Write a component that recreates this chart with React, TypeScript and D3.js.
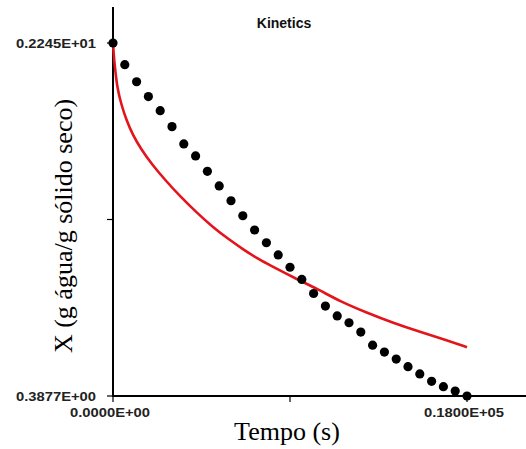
import React from "react";
import * as d3 from "d3";

const W = 526;
const H = 449;

// Experimental points (time in s, X in g água/g sólido seco)
const expTime = [
  0, 600, 1200, 1800, 2400, 3000, 3600, 4200, 4800, 5400, 6000, 6600, 7200, 7800,
  8400, 9000, 9600, 10200, 10800, 11400, 12000, 12600, 13200, 13800, 14400, 15000,
  15600, 16200, 16800, 17400, 18000,
];
const expX = [
  2.245, 2.131, 2.041, 1.963, 1.889, 1.805, 1.714, 1.651, 1.57, 1.493, 1.415, 1.336,
  1.261, 1.194, 1.13, 1.065, 1.001, 0.927, 0.861, 0.809, 0.773, 0.724, 0.655, 0.619,
  0.582, 0.542, 0.504, 0.465, 0.437, 0.414, 0.3877,
];

// Model curve (red)
const modelTime = [
  0, 50, 120, 220, 420, 680, 1020, 1420, 1980, 2730, 3400, 4260, 5100, 5860, 6630,
  7480, 7980, 9170, 10520, 11540, 12900, 14250, 15610, 16970, 18000,
];
const modelX = [
  2.245, 2.166, 2.096, 2.008, 1.922, 1.84, 1.758, 1.688, 1.606, 1.515, 1.44, 1.352,
  1.274, 1.214, 1.158, 1.103, 1.076, 1.012, 0.944, 0.886, 0.826, 0.772, 0.725, 0.682,
  0.644,
];

const xMin = 0;
const xMax = 18000;
const yMin = 0.3877;
const yMax = 2.245;

const xTicks = [0, 9000, 18000];
const xTickLabels = ["0.0000E+00", "", "0.1800E+05"];
const yTicks = [yMin, (yMin + yMax) / 2, yMax];
const yTickLabels = ["0.3877E+00", "", "0.2245E+01"];

const title = "Kinetics";
const xLabel = "Tempo (s)";
const yLabel = "X (g água/g sólido seco)";

export default function App() {
  const x = d3.scaleLinear().domain([xMin, xMax]).range([113, 467]);
  const y = d3.scaleLinear().domain([yMin, yMax]).range([396, 43]);

  const modelPts: [number, number][] = modelTime.map((t, i) => [t, modelX[i]]);
  const line = d3
    .line<[number, number]>()
    .x((d) => x(d[0]))
    .y((d) => y(d[1]))
    .curve(d3.curveBasis);

  const axisX0 = x(xMin);
  const axisY0 = y(yMin);

  return (
    <svg
      width={W}
      height={H}
      style={{ position: "absolute", left: 0, top: 0, background: "#fff" }}
    >
      <rect x={0} y={0} width={W} height={H} fill="#fff" />
      {/* title */}
      <text
        x={284}
        y={28}
        textAnchor="middle"
        fontFamily="Liberation Sans, Arial, sans-serif"
        fontWeight="bold"
        fontSize={14}
        fill="#111"
      >
        {title}
      </text>

      {/* axes */}
      <line x1={axisX0} y1={7} x2={axisX0} y2={axisY0 + 1} stroke="#000" strokeWidth={2} />
      <line x1={axisX0 - 1} y1={axisY0} x2={W} y2={axisY0} stroke="#000" strokeWidth={2} />

      {yTicks.map((v, i) => (
        <g key={"yt" + i}>
          <line x1={axisX0 - 6} x2={axisX0} y1={y(v)} y2={y(v)} stroke="#000" strokeWidth={1.2} />
          {yTickLabels[i] && (
            <text
              x={96}
              y={y(v)}
              dy="0.35em"
              textAnchor="end"
              fontFamily="Liberation Sans, Arial, sans-serif"
              fontWeight="bold"
              fontSize={13}
              textLength={80}
              lengthAdjust="spacingAndGlyphs"
              fill="#222"
            >
              {yTickLabels[i]}
            </text>
          )}
        </g>
      ))}

      {xTicks.map((v, i) => (
        <g key={"xt" + i}>
          <line x1={x(v)} x2={x(v)} y1={axisY0} y2={axisY0 + 6} stroke="#000" strokeWidth={1.2} />
          {xTickLabels[i] && (
            <text
              x={x(v) - 3}
              y={412}
              dy="0.35em"
              textAnchor="middle"
              fontFamily="Liberation Sans, Arial, sans-serif"
              fontWeight="bold"
              fontSize={13}
              textLength={80}
              lengthAdjust="spacingAndGlyphs"
              fill="#222"
            >
              {xTickLabels[i]}
            </text>
          )}
        </g>
      ))}

      {/* axis labels */}
      <text
        x={287}
        y={440}
        textAnchor="middle"
        fontFamily="Liberation Serif, Times New Roman, serif"
        fontSize={26}
        fill="#000"
      >
        {xLabel}
      </text>
      <text
        transform="translate(72,226) rotate(-90)"
        textAnchor="middle"
        fontFamily="Liberation Serif, Times New Roman, serif"
        fontSize={26}
        fill="#000"
      >
        {yLabel}
      </text>

      {/* model curve */}
      <path d={line(modelPts) || ""} fill="none" stroke="#e3141b" strokeWidth={2.6} />

      {/* experimental points */}
      {expTime.map((t, i) => (
        <circle key={"p" + i} cx={x(t)} cy={y(expX[i])} r={4.6} fill="#000" />
      ))}
    </svg>
  );
}
